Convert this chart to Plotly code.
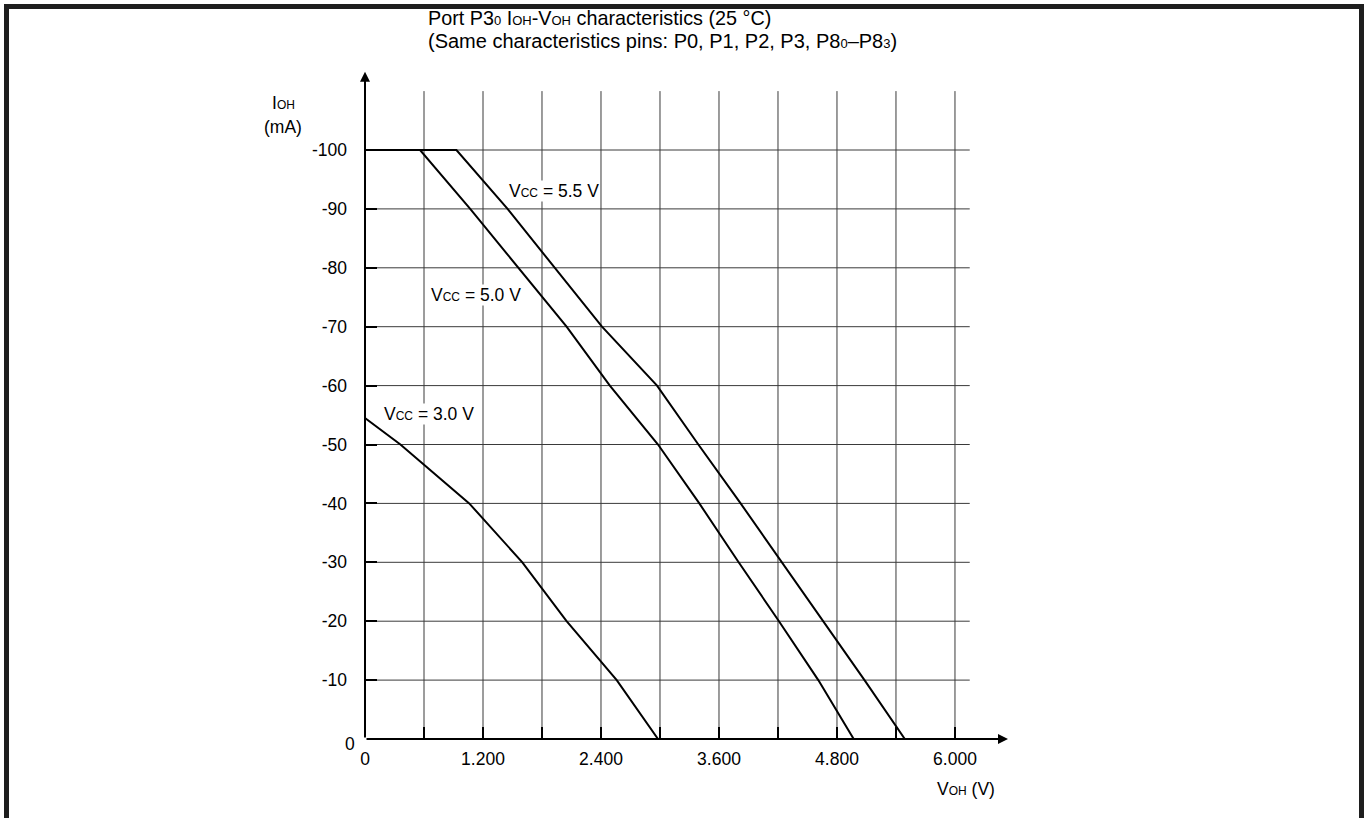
import plotly.graph_objects as go

# curve data (V_OH in V, I_OH in mA)
v_55 = [0, 0.93, 1.45, 1.93, 2.41, 2.97, 3.39, 3.82, 4.24, 4.66, 5.08, 5.49]
i_55 = [-100, -100, -90, -80, -70, -60, -50, -40, -30, -20, -10, 0]

v_50 = [0, 0.56, 1.07, 1.56, 2.05, 2.49, 2.98, 3.40, 3.80, 4.21, 4.61, 4.97]
i_50 = [-100, -100, -90, -80, -70, -60, -50, -40, -30, -20, -10, 0]

v_30 = [0, 0.36, 1.06, 1.60, 2.05, 2.56, 2.98]
i_30 = [-54.5, -50, -40, -30, -20, -10, 0]

x_grid = [0.6, 1.2, 1.8, 2.4, 3.0, 3.6, 4.2, 4.8, 5.4, 6.0]
x_labels = ["0", "", "1.200", "", "2.400", "", "3.600", "", "4.800", "", "6.000"]
y_grid = [-10, -20, -30, -40, -50, -60, -70, -80, -90, -100]
y_labels = ["-10", "-20", "-30", "-40", "-50", "-60", "-70", "-80", "-90", "-100"]

FONT = "Liberation Sans, Arial, sans-serif"
W, H = 1368, 818
L, R, T, B = 365, 358, 70, 79
PW, PH = W - L - R, H - T - B
X_MAX = PW / 98.33
Y_MIN = -PH / 5.89


# pixel -> paper coords
def px(x):
    return (x - L) / PW


def py(y):
    return (H - B - y) / PH


def sub(s, size=12):
    return "<span style='font-size:%dpx'>%s</span>" % (size, s)


fig = go.Figure()

for v, i in [(v_55, i_55), (v_50, i_50), (v_30, i_30)]:
    fig.add_trace(go.Scatter(x=v, y=i, mode="lines", line=dict(color="black", width=2),
                             showlegend=False, hoverinfo="skip"))

shapes = []
# grid
for gx in x_grid:
    shapes.append(dict(type="line", xref="x", yref="y", x0=gx, x1=gx, y0=0, y1=-110,
                       line=dict(color="#3a3a3a", width=1), layer="below"))
for gy in y_grid:
    shapes.append(dict(type="line", xref="x", yref="y", x0=0, x1=6.15, y0=gy, y1=gy,
                       line=dict(color="#3a3a3a", width=1), layer="below"))
# outer frame: left, top, right edges (bottom runs off the page)
frame = dict(color="#1e1e1e", width=5)
shapes.append(dict(type="line", xref="paper", yref="paper", x0=px(6.5), x1=px(6.5),
                   y0=py(830), y1=py(4), line=frame))
shapes.append(dict(type="line", xref="paper", yref="paper", x0=px(4), x1=px(1364),
                   y0=py(6.5), y1=py(6.5), line=frame))
shapes.append(dict(type="line", xref="paper", yref="paper", x0=px(1361.5), x1=px(1361.5),
                   y0=py(830), y1=py(4), line=frame))

annotations = [
    # axes with arrowheads
    dict(x=X_MAX - 0.02, y=0, ax=0, ay=0, xref="x", yref="y", axref="x", ayref="y",
         showarrow=True, arrowhead=2, arrowsize=1, arrowwidth=2, arrowcolor="black", text=""),
    dict(x=0, y=Y_MIN + 0.3, ax=0, ay=0, xref="x", yref="y", axref="x", ayref="y",
         showarrow=True, arrowhead=2, arrowsize=1, arrowwidth=2, arrowcolor="black", text=""),
    dict(x=0, y=0, xref="x", yref="y", text="0", showarrow=False, xanchor="right",
         yanchor="middle", xshift=-8, yshift=-5),
    # curve labels
    dict(x=1.45, y=-93.1, xref="x", yref="y", xanchor="left", showarrow=False,
         text="V" + sub("CC") + " = 5.5 V", bgcolor="white", borderpad=0),
    dict(x=0.66, y=-75.4, xref="x", yref="y", xanchor="left", showarrow=False,
         text="V" + sub("CC") + " = 5.0 V", bgcolor="white", borderpad=0),
    dict(x=0.18, y=-55.2, xref="x", yref="y", xanchor="left", showarrow=False,
         text="V" + sub("CC") + " = 3.0 V", bgcolor="white", borderpad=0),
    # titles
    dict(x=px(426), y=py(18), xref="paper", yref="paper", xanchor="left", yanchor="middle",
         showarrow=False, font=dict(size=19.8),
         text="Port P3" + sub("0", 13) + " I" + sub("OH", 13) + "-V" + sub("OH", 13)
         + " characteristics (25 °C)"),
    dict(x=px(426), y=py(41), xref="paper", yref="paper", xanchor="left", yanchor="middle",
         showarrow=False, font=dict(size=20),
         text="(Same characteristics pins: P0, P1, P2, P3, P8" + sub("0", 13)
         + "–P8" + sub("3", 13) + ")"),
    dict(x=px(283), y=py(103), xref="paper", yref="paper", xanchor="center", yanchor="middle",
         showarrow=False, text="I" + sub("OH")),
    dict(x=px(283), y=py(127), xref="paper", yref="paper", xanchor="center", yanchor="middle",
         showarrow=False, text="(mA)"),
    dict(x=px(935), y=py(789), xref="paper", yref="paper", xanchor="left", yanchor="middle",
         showarrow=False, text="V" + sub("OH") + " (V)"),
]

fig.update_layout(
    width=W, height=H, margin=dict(l=L, r=R, t=T, b=B),
    plot_bgcolor="white", paper_bgcolor="white",
    font=dict(family=FONT, size=17.5, color="black"),
    shapes=shapes, annotations=annotations, showlegend=False,
)
fig.update_xaxes(range=[0, X_MAX], showgrid=False, zeroline=False, showline=False,
                 tickvals=[0] + x_grid, ticktext=x_labels, ticks="inside", ticklen=12,
                 tickwidth=2, tickcolor="black", ticklabelstandoff=7)
fig.update_yaxes(range=[0, Y_MIN], showgrid=False, zeroline=False, showline=False,
                 tickvals=y_grid, ticktext=y_labels, ticks="inside", ticklen=12,
                 tickwidth=2, tickcolor="black", ticklabelstandoff=17)

# drop the default page margin so the figure sits at the window corner
fig.write_html("out.html", config={"displayModeBar": False},
               post_script="document.body.style.margin = '0';")
